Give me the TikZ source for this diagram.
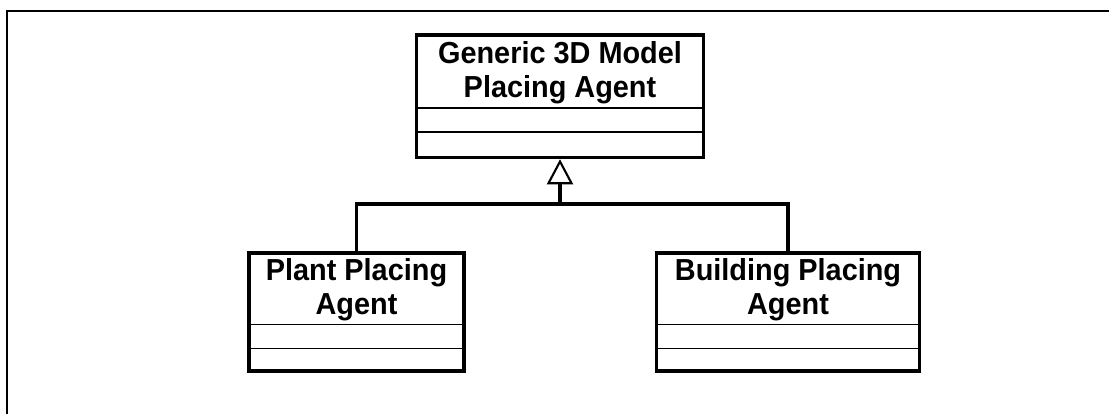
\documentclass[tikz,border=0pt]{standalone}
\usepackage{fontspec}
\setmainfont{Liberation Sans}[FakeStretch=0.95]
\usetikzlibrary{arrows.meta}

\tikzset{
	klasse/.style={draw, line width=2pt, inner sep=0pt},
	klassenname/.style={font=\fontsize{17.3}{19.4}\selectfont\bfseries, align=center, inner sep=0pt},
	trenner/.style={line width=1pt},
	verbindung/.style={line width=2pt},
}

\begin{document}
\begin{tikzpicture}[x=0.02cm, y=-0.02cm]
	\useasboundingbox (0,0) rectangle (1109,414);
	% Rahmen
	\draw[line width=1.2pt] (6.7,414) -- (6.7,11) -- (1109,11);

	% Oberklasse
	\node[klasse, minimum width=5.74cm, minimum height=2.45cm] (generic) at (560,96.25) {};
	\node[klassenname] (generic-name) at (560,72.5) {Generic 3D Model\\Placing Agent};
	\draw[trenner] (416.5,108) -- (703.5,108);
	\draw[trenner] (416.5,132) -- (703.5,132);

	% Unterklassen
	\node[klasse, minimum width=4.3cm, minimum height=2.36cm] (plant) at (356.5,312) {};
	\node[klassenname] (plant-name) at (356.5,290) {Plant Placing\\Agent};
	\draw[trenner] (249,324.5) -- (464,324.5);
	\draw[trenner] (249,348.5) -- (464,348.5);

	\node[klasse, minimum width=5.27cm, minimum height=2.36cm] (building) at (788,312) {};
	\node[klassenname] (building-name) at (788,290) {Building Placing\\Agent};
	\draw[trenner] (656.5,324.5) -- (920,324.5);
	\draw[trenner] (656.5,348.5) -- (920,348.5);

	% Vererbung
	\coordinate (knick) at (560,204);
	\draw[verbindung, -{Triangle[open, length=0.5cm, width=0.52cm, line width=1.2pt]}] (knick) -- (generic.south);
	\draw[verbindung] (plant.north) |- (knick) -| (building.north);
\end{tikzpicture}
\end{document}
